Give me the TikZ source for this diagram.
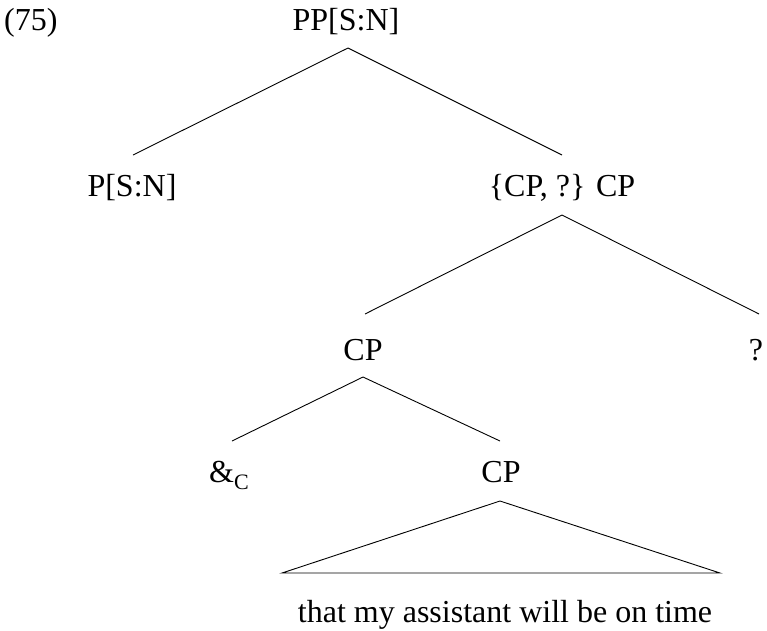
\documentclass[tikz,border=0pt]{standalone}
\usepackage{fontspec}
\setmainfont{Liberation Serif}
\begin{document}
\begin{tikzpicture}[x=1pt,y=-1pt,
  lbl/.style={anchor=base,inner sep=0pt,font=\fontsize{32}{38}\selectfont},
  edge/.style={line width=0.9pt,line join=miter}]
\useasboundingbox (0,0) rectangle (767,630);
\node[lbl,anchor=base west] (num) at (4,30) {(75)};
\node[lbl] (pp) at (346,30) {PP[S:N]};
\node[lbl] (p) at (132,196) {P[S:N]};
\node[lbl] (cpq) at (562,196) {\{CP, ?\} CP};
\node[lbl] (cp1) at (363,360) {CP};
\node[lbl] (q) at (756,360) {?};
\node[lbl] (amp) at (229,482) {\&\raisebox{-0.22em}{\fontsize{22}{22}\selectfont C}};
\node[lbl] (cp2) at (501,482) {CP};
\node[lbl] (txt) at (505,622) {that my assistant will be on time};
\coordinate (ppT) at (348,48);
\coordinate (pB) at (133,155);
\coordinate (cpqB) at (562,155);
\coordinate (cpqT) at (562,215);
\coordinate (cp1B) at (365,314);
\coordinate (qB) at (759,314);
\coordinate (cp1T) at (363,377);
\coordinate (ampB) at (232,441);
\coordinate (cp2B) at (500,441);
\coordinate (cp2T) at (500,501);
\coordinate (triL) at (282,573);
\coordinate (triR) at (720,573);
\draw[edge] (pB) -- (ppT) -- (cpqB);
\draw[edge] (cp1B) -- (cpqT) -- (qB);
\draw[edge] (ampB) -- (cp1T) -- (cp2B);
\draw[edge] (cp2T) -- (triL) -- (triR) -- cycle;
\end{tikzpicture}
\end{document}
